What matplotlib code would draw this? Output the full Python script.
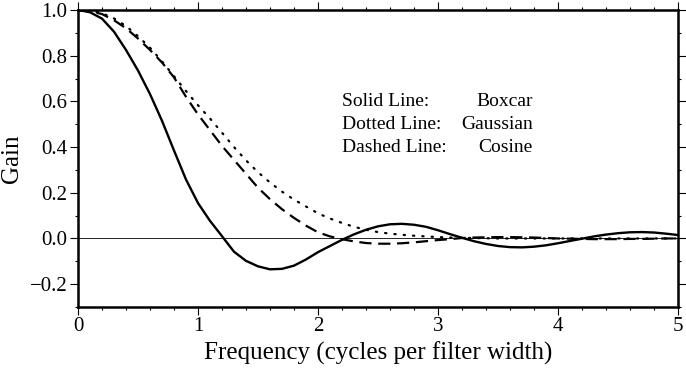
import matplotlib
matplotlib.use("Agg")
import matplotlib.pyplot as plt
from matplotlib.ticker import MultipleLocator, FuncFormatter

# frequency samples (cycles per filter width)
freq = [0.0, 0.1, 0.2, 0.3, 0.4, 0.5, 0.6, 0.7, 0.8, 0.9,
        1.0, 1.1, 1.2, 1.3, 1.4, 1.5, 1.6, 1.7, 1.8, 1.9,
        2.0, 2.1, 2.2, 2.3, 2.4, 2.5, 2.6, 2.7, 2.8, 2.9,
        3.0, 3.1, 3.2, 3.3, 3.4, 3.5, 3.6, 3.7, 3.8, 3.9,
        4.0, 4.1, 4.2, 4.3, 4.4, 4.5, 4.6, 4.7, 4.8, 4.9, 5.0]

# gain
boxcar = [1.0, 0.99, 0.962, 0.905, 0.825, 0.735, 0.632, 0.515, 0.385, 0.258,
          0.155, 0.077, 0.01, -0.058, -0.098, -0.122, -0.135, -0.133, -0.119, -0.092,
          -0.06, -0.033, -0.006, 0.018, 0.038, 0.053, 0.062, 0.064, 0.06, 0.051,
          0.036, 0.019, 0.003, -0.012, -0.024, -0.033, -0.038, -0.039, -0.036, -0.03,
          -0.021, -0.011, -0.001, 0.009, 0.017, 0.023, 0.027, 0.028, 0.026, 0.021, 0.015]
gaussian = [1.0, 0.997, 0.986, 0.963, 0.93, 0.885, 0.835, 0.775, 0.71, 0.645,
            0.583, 0.525, 0.463, 0.40, 0.342, 0.29, 0.245, 0.205, 0.17, 0.14,
            0.11, 0.087, 0.068, 0.051, 0.038, 0.028, 0.021, 0.016, 0.012, 0.009,
            0.006, 0.004, 0.003, 0.002, 0.001, 0.0, 0.0, 0.0, 0.0, 0.0,
            0.0, 0.0, 0.0, 0.0, 0.0, 0.0, 0.0, 0.0, 0.0, 0.0, 0.0]
cosine = [1.0, 0.995, 0.982, 0.955, 0.92, 0.875, 0.825, 0.77, 0.705, 0.62,
          0.543, 0.474, 0.405, 0.344, 0.283, 0.222, 0.172, 0.128, 0.09, 0.056,
          0.027, 0.009, -0.003, -0.013, -0.02, -0.023, -0.023, -0.021, -0.017, -0.012,
          -0.007, -0.003, 0.002, 0.004, 0.005, 0.006, 0.006, 0.005, 0.004, 0.002,
          0.0, -0.001, -0.002, -0.003, -0.003, -0.003, -0.002, -0.002, -0.001, 0.0, 0.0]

key_left = ["Solid Line:", "Dotted Line:", "Dashed Line:"]
key_right = ["Boxcar", "Gaussian", "Cosine"]
key_y = [0.6, 0.5, 0.4]

plt.rcParams['font.family'] = ['Liberation Serif', 'DejaVu Serif']

fig = plt.figure(figsize=(6.86, 3.69), dpi=100)
ax = fig.add_axes([0.1137, 0.168, 0.8746, 0.805])

ax.axhline(0, color='black', lw=0.6)
ax.plot(freq, boxcar, color='black', lw=1.7)
ax.plot(freq, gaussian, color='black', lw=1.6, linestyle=(0, (0.6, 3.6)),
        dash_capstyle='round')
ax.plot(freq, cosine, color='black', lw=1.6, linestyle=(0, (5.5, 3.0)))

for y, a, b in zip(key_y, key_left, key_right):
    ax.text(2.2, y, a, fontsize=14, ha='left', va='center')
    ax.text(3.79, y, b, fontsize=14, ha='right', va='center')

ax.set_xlim(0, 5)
ax.set_ylim(-0.3, 1.0)
ax.xaxis.set_major_locator(MultipleLocator(1))
ax.xaxis.set_minor_locator(MultipleLocator(0.2))
ax.yaxis.set_major_locator(MultipleLocator(0.2))
ax.yaxis.set_minor_locator(MultipleLocator(0.1))
ax.yaxis.set_major_formatter(FuncFormatter(lambda v, p: f"{v:.1f}".replace("-", "\u2212")))

ax.tick_params(which='both', direction='out', top=True, right=True,
               width=0.8, labelsize=15)
ax.tick_params(which='major', length=5.5, pad=2)
ax.tick_params(which='minor', length=2.5)
for s in ax.spines.values():
    s.set_linewidth(1.8)

ax.set_xlabel("Frequency (cycles per filter width)", fontsize=18, labelpad=4)
ax.set_ylabel("Gain", fontsize=18, labelpad=5)

fig.savefig("out.png", dpi=100)
